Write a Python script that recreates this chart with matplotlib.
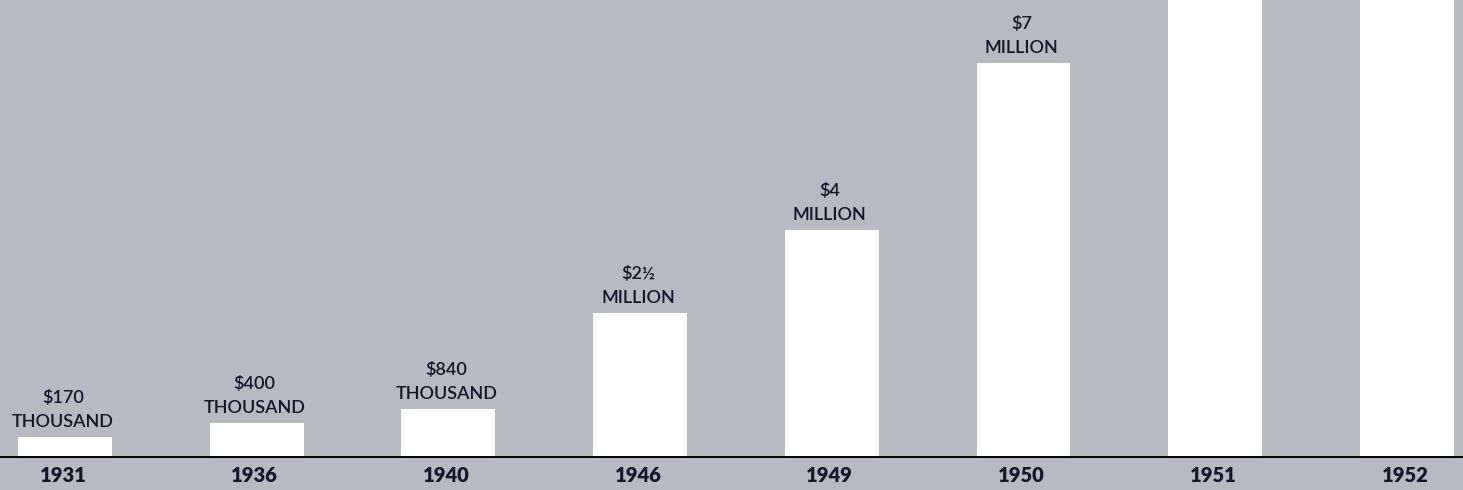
import numpy as np
from matplotlib import pyplot as plt

# data (bar heights in millions of dollars)
years = ["1931", "1936", "1940", "1946", "1949", "1950", "1951", "1952"]
heights = [0.37, 0.62, 0.87, 2.57, 4.04, 7.0, 10.0, 13.0]
labels = ["$170\nTHOUSAND", "$400\nTHOUSAND", "$840\nTHOUSAND",
          "$2\u00bd\nMILLION", "$4\nMILLION", "$7\nMILLION", "", ""]

bg = "#b9b9c2"
ink = "#16162a"
plt.rcParams["font.family"] = ["Lato", "DejaVu Sans"]

fig = plt.figure(figsize=(14.63, 4.90), dpi=100, facecolor=bg)
ax = fig.add_axes([0, 32 / 490, 1, 458 / 490])
ax.set_facecolor(bg)

x = np.arange(len(years))
ax.bar(x + 0.01, heights, width=0.49, color="white", zorder=2)
ax.axhline(0, color="black", lw=2.8, zorder=3)

for xi, h, lab in zip(x, heights, labels):
    if lab:
        ax.text(xi, h + 0.12, lab, ha="center", va="bottom", fontsize=13,
                fontweight="semibold", color=ink, linespacing=1.65)

ax.set_xlim(-0.3286, 7.3025)
ax.set_ylim(0, 8.12)
ax.set_xticks(x)
ax.set_xticklabels(years, fontsize=14.5, fontweight="heavy", color=ink)
ax.tick_params(axis="x", length=0, pad=6)
ax.set_yticks([])
for s in ax.spines.values():
    s.set_visible(False)

fig.savefig("out.png", dpi=100, facecolor=bg)
